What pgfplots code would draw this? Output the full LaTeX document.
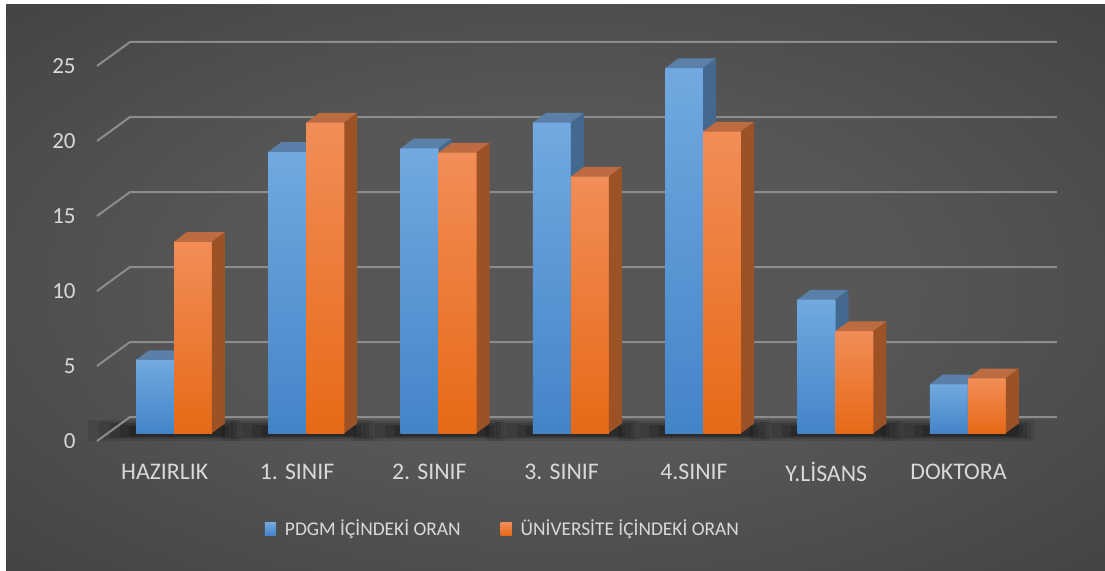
\documentclass[border=0pt]{standalone}
\usepackage{pgfplots}
\pgfplotsset{compat=1.18}
\usepackage{pgfplotstable}
\usepackage{fontspec}
\setmainfont{Carlito}

\definecolor{bgA}{HTML}{575757}
\definecolor{bgB}{HTML}{363636}
\definecolor{bgC}{HTML}{262626}
\definecolor{gridc}{HTML}{8C8C8C}
\definecolor{labc}{HTML}{D9D9D9}
\definecolor{blueT}{HTML}{72A9E0}
\definecolor{blueB}{HTML}{4384C8}
\definecolor{blueTop}{HTML}{5A7FA9}
\definecolor{blueSide}{HTML}{44698F}
\definecolor{oraT}{HTML}{F28D58}
\definecolor{oraB}{HTML}{E66A16}
\definecolor{oraTop}{HTML}{BD6B40}
\definecolor{oraSide}{HTML}{9D5225}

\pgfdeclareradialshading{bgshade}{\pgfpoint{0bp}{0bp}}{color(0bp)=(bgA); color(15bp)=(bgA); color(50bp)=(bgB); color(72bp)=(bgC)}

\pgfplotstableread{
cat pdgm univ
0 4.87 12.75
1 18.75 20.70
2 18.98 18.70
3 20.70 17.10
4 24.33 20.10
5 8.90 6.80
6 3.25 3.65
}\datatable

\def\dx{0.098}
\def\dy{0.64}
\def\bw{0.287}

\newcommand\drawbar[7]{%
  \pgfmathsetmacro\xl{#1}\pgfmathsetmacro\xr{#2}\pgfmathsetmacro\vv{#3}%
  \pgfmathsetmacro\xrr{\xr+\dx}\pgfmathsetmacro\xlr{\xl+\dx}\pgfmathsetmacro\vt{\vv+\dy}%
  \edef\tmp{\noexpand\addplot[forget plot, draw=none, top color=#4, bottom color=#5] coordinates {(\xl,0) (\xr,0) (\xr,\vv) (\xl,\vv)};}\tmp
  \edef\tmp{\noexpand\addplot[forget plot, draw=none, fill=#6] coordinates {(\xl,\vv) (\xr,\vv) (\xrr,\vt) (\xlr,\vt)};}\tmp
  \edef\tmp{\noexpand\addplot[forget plot, draw=none, fill=#7] coordinates {(\xr,0) (\xrr,\dy) (\xrr,\vt) (\xr,\vv)};}\tmp
}

% #1 group, #2 extra left, #3 extra right, #4 below, #5 top, #6 opacity
\newcommand\shadow[6]{%
  \pgfmathsetmacro\sl{#1-\bw-#2}\pgfmathsetmacro\sr{#1+\bw+\dx+#3}%
  \edef\tmp{\noexpand\addplot[forget plot, draw=none, fill=black, fill opacity=#6] coordinates {(\sl,-#4) (\sr,-#4) (\sr,#5) (\sl,#5)};}\tmp
}

\begin{document}
\begin{tikzpicture}
\begin{axis}[
  width=552.5pt, height=285pt, scale only axis,
  xmin=-1.3152, xmax=7.0370, ymin=-9.1333, ymax=28.8667,
  hide axis, clip=false, no markers,
  legend columns=2,
  legend image code/.code={\path[#1] (0pt,-3.2pt) rectangle (5.5pt,3.2pt); \path (0pt,0pt) -- (8pt,0pt);},
  legend style={at={(axis cs:2.494,-6.4)}, anchor=center, draw=none, fill=none,
    text=labc, font=\fontsize{9.7pt}{12pt}\selectfont, inner sep=0pt,
    /tikz/every even column/.append style={column sep=18pt}},
]
% page and background
\addplot[forget plot, draw=none, fill=white] coordinates {(-1.3152,-9.1333) (7.0370,-9.1333) (7.0370,28.8667) (-1.3152,28.8667)};
\addplot[forget plot, draw=none, shading=bgshade] coordinates {(-1.2698,-9.1333) (7.0370,-9.1333) (7.0370,28.6) (-1.2698,28.6)};
% shadows
\pgfplotsforeachungrouped \i in {0,...,6}{%
  \shadow{\i}{0.36}{0.12}{0.50}{0.85}{0.10}%
  \shadow{\i}{0.28}{0.09}{0.42}{0.75}{0.10}%
  \shadow{\i}{0.20}{0.06}{0.34}{0.65}{0.12}%
  \shadow{\i}{0.12}{0.03}{0.26}{0.55}{0.14}%
  \shadow{\i}{0.05}{0.00}{0.18}{0.45}{0.16}%
}
% gridlines
\pgfplotsforeachungrouped \t in {0,5,10,15,20,25}{%
  \pgfmathsetmacro\ya{\t-0.533}\pgfmathsetmacro\yb{\t+1.067}%
  \edef\tmp{\noexpand\addplot[forget plot, gridc, line width=1pt] coordinates {(-0.582,\ya) (-0.3326,\yb) (6.674,\yb)};}\tmp
  \edef\tmp{\noexpand\node[anchor=east, text=labc, font=\noexpand\fontsize{11.5pt}{13pt}\noexpand\selectfont, inner sep=0pt] at (axis cs:-0.7407,\ya) {\t};}\tmp
}
% bars
\pgfplotsforeachungrouped \i in {0,...,6}{%
  \pgfplotstablegetelem{\i}{pdgm}\of\datatable \let\va\pgfplotsretval
  \pgfplotstablegetelem{\i}{univ}\of\datatable \let\vb\pgfplotsretval
  \drawbar{\i-\bw}{\i}{\va}{blueT}{blueB}{blueTop}{blueSide}%
  \drawbar{\i}{\i+\bw}{\vb}{oraT}{oraB}{oraTop}{oraSide}%
}
% category labels
\foreach \k/\lab in {0/HAZIRLIK,1/1. SINIF,2/2. SINIF,3/3. SINIF,4/4.SINIF,5/Y.LİSANS,6/DOKTORA}{%
  \edef\tmp{\noexpand\node[text=labc, font=\noexpand\fontsize{11.9pt}{13pt}\noexpand\selectfont, inner sep=0pt] at (axis cs:\k-0.07,-2.6) {\lab};}\tmp
}
\addlegendimage{top color=blueT, bottom color=blueB, draw=none}
\addlegendentry{PDGM İÇİNDEKİ ORAN}
\addlegendimage{top color=oraT, bottom color=oraB, draw=none}
\addlegendentry{ÜNİVERSİTE İÇİNDEKİ ORAN}
\end{axis}
\end{tikzpicture}
\end{document}
